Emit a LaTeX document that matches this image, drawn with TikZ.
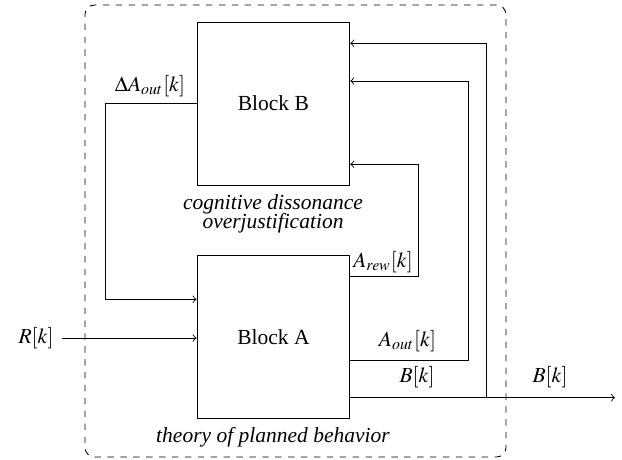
\documentclass[tikz,border=0pt]{standalone}
\usepackage{mathptmx}
\usepackage{fontspec}
\setmainfont{Liberation Serif}
\begin{document}
\begin{tikzpicture}[x=0.465pt,y=-0.465pt,
  blk/.style={draw, minimum width=71.1pt, minimum height=75.8pt, inner sep=0pt},
  lbl/.style={inner sep=0pt},
  frame/.style={draw, dashed, rounded corners=4.5pt, minimum width=195.8pt, minimum height=210.2pt, inner sep=0pt},
  wire/.style={->}]
\useasboundingbox (0,0) rectangle (622,459);

% enclosing system boundary
\node[frame] (sys) at (295.5,231) {};

% the two blocks
\node[blk] (B) at (273.4,103.6) {Block B};
\node[blk] (A) at (273.4,337) {Block A};

% block captions
\node[lbl, font=\itshape, align=center] (capB) at (273,214) {cognitive dissonance\\[-3pt]overjustification};
\node[lbl, font=\itshape] (capA) at (273,437) {theory of planned behavior};

% input and output
\node[lbl] (R) at (36,338) {$R[k]$};
\coordinate (out) at (615,397.7);
\coordinate (j) at (486.7,397.7);

% feedback routing corners
\coordinate (fb1) at (486.7,43.3);
\coordinate (fb2) at (468.3,81);
\coordinate (fb3) at (418.7,164.3);
\coordinate (rewc) at (418.7,276.7);
\coordinate (outc) at (468.3,360);
\coordinate (lc) at (105.7,299.3);

% connectors
\draw[wire] ([xshift=3.7pt]R.east) -- (A.west |- R);
\draw[wire] (B.west) -| (lc) -- (A.west |- lc);
\draw[wire] (A.east |- rewc) -| (fb3) -- (B.east |- fb3);
\draw[wire] (A.east |- outc) -| (fb2) -- (B.east |- fb2);
\draw[wire] (A.east |- j) -- (out);
\draw (j) -- (fb1);
\draw[wire] (fb1) -- (B.east |- fb1);

% signal labels
\node[lbl] (ldA) at (150,86) {$\Delta A_{out}[k]$};
\node[lbl] (lrew) at (383,262) {$A_{rew}[k]$};
\node[lbl] (lout) at (407.5,341) {$A_{out}[k]$};
\node[lbl] (lb1) at (417,377) {$B[k]$};
\node[lbl] (lb2) at (550,377) {$B[k]$};
\end{tikzpicture}
\end{document}
